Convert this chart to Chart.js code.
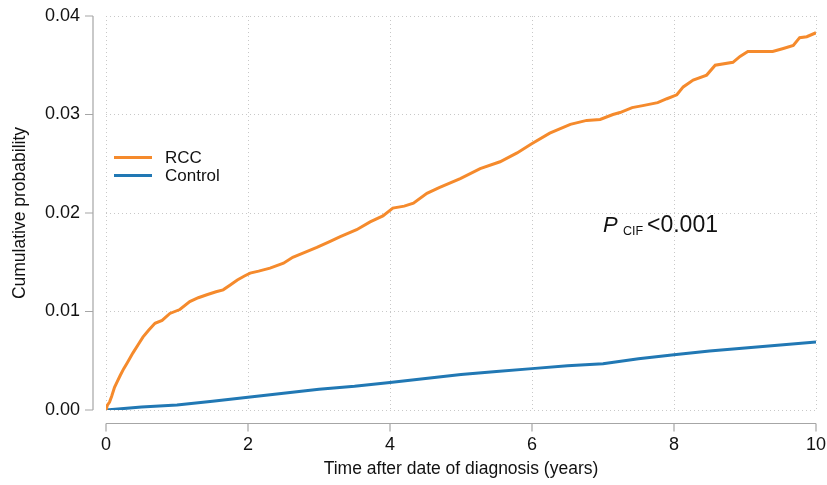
<!DOCTYPE html>
<html>
<head>
<meta charset="utf-8">
<script src="https://cdn.jsdelivr.net/npm/chart.js@4.4.1/dist/chart.umd.min.js"></script>
<style>
    html, body { margin: 0; padding: 0; background: #fff; }
    #wrap { width: 827px; height: 485px; }
</style>
</head>
<body>
<div id="wrap"><canvas id="cif-chart" width="827" height="485"></canvas></div>
<script>
//cumulative incidence - RCC vs control

// time (years)
var rccTime = [0, 0.02, 0.05, 0.08, 0.12, 0.16, 0.2, 0.25, 0.3, 0.38, 0.45, 0.52, 0.6, 0.69, 0.79, 0.9, 1.04, 1.18, 1.3, 1.42,
    1.55, 1.65, 1.75, 1.85, 1.95, 2.03, 2.15, 2.31, 2.5, 2.63, 2.8, 2.97, 3.15, 3.3, 3.53, 3.72, 3.9, 4.04, 4.2, 4.33,
    4.52, 4.7, 4.99, 5.27, 5.55, 5.79, 5.99, 6.25, 6.54, 6.77, 6.96, 7.14, 7.24, 7.41, 7.56, 7.77, 7.9, 8.04, 8.13, 8.27,
    8.46, 8.58, 8.83, 8.93, 9.04, 9.39, 9.54, 9.68, 9.77, 9.87, 10.0];
var rccValue = [0, 0.0005, 0.0008, 0.0014, 0.0023, 0.0029, 0.0035, 0.0042, 0.0048, 0.0058, 0.0066, 0.0074, 0.0081, 0.0088, 0.0091, 0.0098, 0.0102, 0.0110, 0.0114, 0.0117,
    0.0120, 0.0122, 0.0127, 0.0132, 0.0136, 0.0139, 0.0141, 0.0144, 0.0149, 0.0155, 0.0160, 0.0165, 0.0171, 0.0176, 0.0183, 0.0191, 0.0197, 0.0205, 0.0207, 0.0210,
    0.0220, 0.0226, 0.0235, 0.0245, 0.0252, 0.0261, 0.0270, 0.0281, 0.0290, 0.0294, 0.0295, 0.0300, 0.0302, 0.0307, 0.0309, 0.0312, 0.0316, 0.0320, 0.0328, 0.0335,
    0.0340, 0.0350, 0.0353, 0.0359, 0.0364, 0.0364, 0.0367, 0.0370, 0.0378, 0.0379, 0.0383];

var controlTime = [0, 0.5, 1, 1.5, 2, 2.5, 3, 3.5, 4, 4.5, 5, 5.5, 6, 6.5, 7, 7.5, 8, 8.5, 9, 9.5, 10];
var controlValue = [0, 0.0003, 0.0005, 0.0009, 0.0013, 0.0017, 0.0021, 0.0024, 0.0028, 0.0032, 0.0036, 0.0039, 0.0042, 0.0045, 0.0047, 0.0052, 0.0056, 0.0060, 0.0063, 0.0066, 0.0069];

var seriesNames = ['RCC', 'Control'];
var xTicks = [0, 2, 4, 6, 8, 10];
var yTicks = [0, 0.01, 0.02, 0.03, 0.04];
var pSub = 'CIF';
var pLabel = '<0.001';

var Colors = ['#f58a2c', '#2178b4'];
var FONT = '"Liberation Sans", Arial, Helvetica, sans-serif';

function ToPoints(xs, ys) {
    return xs.map(function (x, i) { return { x: x, y: ys[i] }; });
}

//axis lines drawn offset from the plot, like stata
var offsetAxes = {
    id: 'offsetAxes',
    afterDraw: function (chart) {
        var ctx = chart.ctx;
        var xs = chart.scales.x;
        var ys = chart.scales.y;
        var area = chart.chartArea;
        var axX = area.left - 13;
        var axY = area.bottom + 13.5;
        ctx.save();
        ctx.strokeStyle = '#a6a6a6';
        ctx.lineWidth = 1.2;
        ctx.beginPath();
        ctx.moveTo(axX, ys.getPixelForValue(yTicks[0]));
        ctx.lineTo(axX, ys.getPixelForValue(yTicks[yTicks.length - 1]));
        yTicks.forEach(function (v) {
            var py = ys.getPixelForValue(v);
            ctx.moveTo(axX - 8, py);
            ctx.lineTo(axX, py);
        });
        ctx.moveTo(xs.getPixelForValue(xTicks[0]), axY);
        ctx.lineTo(xs.getPixelForValue(xTicks[xTicks.length - 1]), axY);
        xTicks.forEach(function (v) {
            var px = xs.getPixelForValue(v);
            ctx.moveTo(px, axY);
            ctx.lineTo(px, axY + 8);
        });
        ctx.stroke();
        ctx.restore();
    }
};

//legend + p value text inside the plot
var innerText = {
    id: 'innerText',
    afterDatasetsDraw: function (chart) {
        var ctx = chart.ctx;
        var area = chart.chartArea;
        ctx.save();
        chart.data.datasets.forEach(function (ds, i) {
            var ly = area.top + 141.5 + i * 18;
            ctx.strokeStyle = ds.borderColor;
            ctx.lineWidth = 3;
            ctx.beginPath();
            ctx.moveTo(area.left + 8, ly);
            ctx.lineTo(area.left + 46, ly);
            ctx.stroke();
            ctx.fillStyle = '#111';
            ctx.font = '17px ' + FONT;
            ctx.textBaseline = 'middle';
            ctx.textAlign = 'left';
            ctx.fillText(ds.label, area.left + 59, ly + 1);
        });

        var xs = chart.scales.x;
        var ys = chart.scales.y;
        var px = xs.getPixelForValue(7.0);
        var py = ys.getPixelForValue(0.0187);
        ctx.fillStyle = '#111';
        ctx.textBaseline = 'middle';
        ctx.font = 'italic 22px ' + FONT;
        ctx.fillText('P', px, py);
        ctx.font = '12.5px ' + FONT;
        ctx.fillText(pSub, px + 20, py + 6);
        ctx.font = '23px ' + FONT;
        ctx.fillText(pLabel, px + 44, py);
        ctx.restore();
    }
};

var ctx = document.getElementById('cif-chart');
var myChart = new Chart(ctx, {
    type: 'line',
    data: {
        datasets: [
            {
                label: seriesNames[0],
                data: ToPoints(rccTime, rccValue),
                borderColor: Colors[0],
                backgroundColor: Colors[0],
                borderWidth: 3,
                pointRadius: 0,
                tension: 0
            },
            {
                label: seriesNames[1],
                data: ToPoints(controlTime, controlValue),
                borderColor: Colors[1],
                backgroundColor: Colors[1],
                borderWidth: 3,
                pointRadius: 0,
                tension: 0
            }
        ]
    },
    options: {
        responsive: false,
        animation: false,
        layout: { padding: { left: 0, right: 11, top: 16, bottom: 0 } },
        scales: {
            x: {
                type: 'linear',
                min: 0,
                max: 10,
                afterBuildTicks: function (scale) {
                    scale.ticks = xTicks.map(function (v) { return { value: v }; });
                },
                afterFit: function (scale) { scale.height = 75; },
                // invisible tick marks just push the labels down
                grid: { color: '#c8c8c8', lineWidth: 1, drawTicks: true, tickLength: 24, tickColor: 'rgba(0,0,0,0)' },
                border: { display: false, dash: [1, 3] },
                ticks: {
                    padding: 0,
                    color: '#111',
                    font: { family: FONT, size: 18 },
                    maxRotation: 0
                },
                title: {
                    display: true,
                    text: 'Time after date of diagnosis (years)',
                    color: '#111',
                    font: { family: FONT, size: 17.5 },
                    padding: { top: 0, bottom: 5 }
                }
            },
            y: {
                type: 'linear',
                min: 0,
                max: 0.04,
                afterBuildTicks: function (scale) {
                    scale.ticks = yTicks.map(function (v) { return { value: v }; });
                },
                afterFit: function (scale) { scale.width = 106; },
                grid: { color: '#c8c8c8', lineWidth: 1, drawTicks: true, tickLength: 24, tickColor: 'rgba(0,0,0,0)' },
                border: { display: false, dash: [1, 3] },
                ticks: {
                    padding: 2,
                    color: '#111',
                    font: { family: FONT, size: 18 },
                    callback: function (v) { return Number(v).toFixed(2); }
                },
                title: {
                    display: true,
                    text: 'Cumulative probability',
                    color: '#111',
                    font: { family: FONT, size: 17.5 },
                    padding: { top: 10, bottom: 0 }
                }
            }
        },
        plugins: {
            legend: { display: false },
            tooltip: { enabled: false }
        }
    },
    plugins: [offsetAxes, innerText]
});
</script>
</body>
</html>
